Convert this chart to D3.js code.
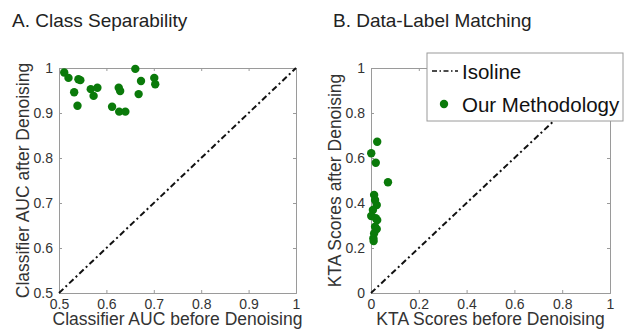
<!DOCTYPE html>
<html>
<head>
<meta charset="utf-8">
<script src="https://cdn.jsdelivr.net/npm/d3@7"></script>
<style>
  body { margin: 0; background: #fff; }
  text { font-family: "Liberation Sans", Arial, sans-serif; }
</style>
</head>
<body>
<div id="container"></div>
<script>
// panel A: classifier AUC before / after denoising
var aucBefore = [0.511, 0.520, 0.541, 0.545, 0.532, 0.539, 0.567, 0.573, 0.581, 0.612,
                 0.626, 0.629, 0.627, 0.640, 0.661, 0.673, 0.668, 0.701, 0.703];
var aucAfter  = [0.990, 0.978, 0.975, 0.973, 0.946, 0.916, 0.953, 0.938, 0.956, 0.914,
                 0.956, 0.949, 0.903, 0.903, 0.998, 0.971, 0.942, 0.978, 0.964];
var aucTicks = [0.5, 0.6, 0.7, 0.8, 0.9, 1];

// panel B: KTA scores before / after denoising
var ktaBefore = [0.026, 0.001, 0.020, 0.071, 0.013, 0.017, 0.024, 0.008, 0.001, 0.020,
                 0.026, 0.017, 0.024, 0.013, 0.010, 0.011];
var ktaAfter  = [0.672, 0.621, 0.579, 0.492, 0.436, 0.413, 0.391, 0.369, 0.342, 0.332,
                 0.324, 0.295, 0.284, 0.265, 0.243, 0.231];
var ktaTicks = [0, 0.2, 0.4, 0.6, 0.8, 1];

var legendLabels = ["Isoline", "Our Methodology"];

var width = 624, height = 330;
var green = "#0a7a0a", axisGrey = "#9a9a9a", textGrey = "#333";

var svg = d3.select("#container")
  .append("svg")
    .attr("width", width)
    .attr("height", height);

function panel(opts) {
  var x = d3.scaleLinear().domain(opts.domain).range([opts.left, opts.right]);
  var y = d3.scaleLinear().domain(opts.domain).range([opts.bottom, opts.top]);
  var g = svg.append("g");

  // title
  g.append("text")
    .attr("x", opts.titleX)
    .attr("y", 27)
    .attr("font-size", "19px")
    .attr("fill", "#222")
    .text(opts.title);

  // axes (ticks pointing inward, box on)
  var fmt = function (d) { return d === 1 ? "1" : (d === 0 ? "0" : d3.format(".1f")(d)); };
  var bottomAx = g.append("g")
    .attr("transform", "translate(0," + opts.bottom + ")")
    .call(d3.axisBottom(x).tickValues(opts.ticks).tickSize(-3).tickPadding(6).tickFormat(fmt));
  var leftAx = g.append("g")
    .attr("transform", "translate(" + opts.left + ",0)")
    .call(d3.axisLeft(y).tickValues(opts.ticks).tickSize(-3).tickPadding(6).tickFormat(fmt));
  var topAx = g.append("g")
    .attr("transform", "translate(0," + opts.top + ")")
    .call(d3.axisTop(x).tickValues(opts.ticks).tickSize(-3).tickFormat(""));
  var rightAx = g.append("g")
    .attr("transform", "translate(" + opts.right + ",0)")
    .call(d3.axisRight(y).tickValues(opts.ticks).tickSize(-3).tickFormat(""));

  [bottomAx, leftAx, topAx, rightAx].forEach(function (a) {
    a.select(".domain").attr("stroke", axisGrey);
    a.selectAll(".tick line").attr("stroke", axisGrey);
    a.selectAll(".tick text")
      .attr("font-size", "14px")
      .attr("font-family", "Liberation Sans, Arial, sans-serif")
      .attr("fill", textGrey);
  });

  // axis labels
  g.append("text")
    .attr("x", (opts.left + opts.right) / 2)
    .attr("y", 325)
    .attr("text-anchor", "middle")
    .attr("font-size", "17.5px")
    .attr("fill", textGrey)
    .text(opts.xLabel);
  g.append("text")
    .attr("transform", "translate(" + (opts.left - 30) + "," + ((opts.top + opts.bottom) / 2) + ") rotate(-90)")
    .attr("text-anchor", "middle")
    .attr("font-size", "17.5px")
    .attr("fill", textGrey)
    .text(opts.yLabel);

  // isoline
  g.append("line")
    .attr("x1", x(opts.domain[0])).attr("y1", y(opts.domain[0]))
    .attr("x2", x(opts.domain[1])).attr("y2", y(opts.domain[1]))
    .attr("stroke", "#111")
    .attr("stroke-width", 2)
    .attr("stroke-dasharray", "6,3,2,3");

  // points
  g.selectAll("circle.pt")
    .data(opts.xs)
    .enter()
    .append("circle")
    .attr("class", "pt")
    .attr("cx", function (d) { return x(d); })
    .attr("cy", function (d, i) { return y(opts.ys[i]); })
    .attr("r", 4.2)
    .attr("fill", green);

  return g;
}

panel({
  title: "A. Class Separability", titleX: 12,
  left: 59, right: 296, top: 68, bottom: 293,
  domain: [0.5, 1], ticks: aucTicks,
  xs: aucBefore, ys: aucAfter,
  xLabel: "Classifier AUC before Denoising",
  yLabel: "Classifier AUC after Denoising"
});

panel({
  title: "B. Data-Label Matching", titleX: 333,
  left: 371, right: 610, top: 68, bottom: 293,
  domain: [0, 1], ticks: ktaTicks,
  xs: ktaBefore, ys: ktaAfter,
  xLabel: "KTA Scores before Denoising",
  yLabel: "KTA Scores after Denoising"
});

// legend
var leg = svg.append("g");
leg.append("rect")
  .attr("x", 427).attr("y", 53)
  .attr("width", 196).attr("height", 68)
  .attr("fill", "#fff")
  .attr("stroke", axisGrey);
leg.append("line")
  .attr("x1", 432).attr("y1", 71)
  .attr("x2", 458).attr("y2", 71)
  .attr("stroke", "#111")
  .attr("stroke-width", 1.5)
  .attr("stroke-dasharray", "5,2.5,1.5,2.5");
leg.append("circle")
  .attr("cx", 444).attr("cy", 104)
  .attr("r", 4.2)
  .attr("fill", green);
leg.selectAll("text.lab")
  .data(legendLabels)
  .enter()
  .append("text")
  .attr("class", "lab")
  .attr("x", 462)
  .attr("y", function (d, i) { return 79 + i * 33; })
  .attr("font-size", "20.5px")
  .attr("fill", "#111")
  .text(function (d) { return d; });
</script>
</body>
</html>
